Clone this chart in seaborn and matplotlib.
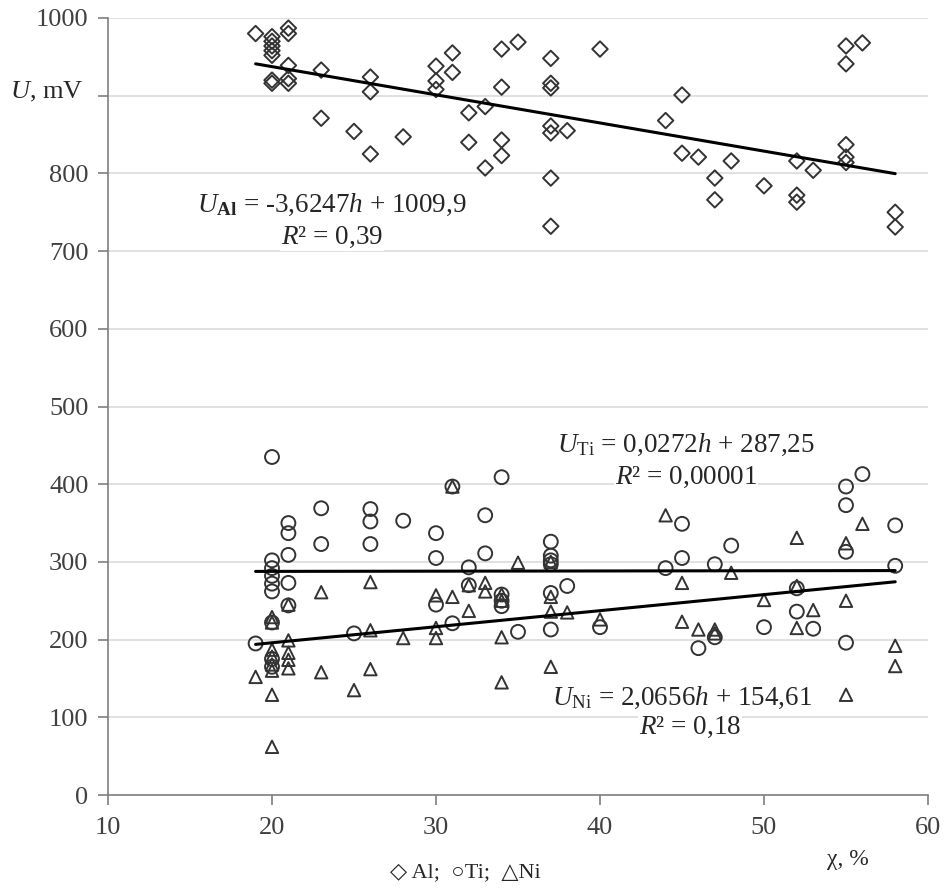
import matplotlib
matplotlib.use("Agg")
import matplotlib.pyplot as plt
import seaborn as sns
import numpy as np
import pandas as pd

# ---------------- data ----------------
al_x = [19, 20, 20, 20, 20, 20, 20, 20, 21, 21, 21, 21, 21, 23, 23, 25, 26, 26, 26, 28,
        30, 30, 30, 31, 31, 32, 32, 33, 33, 34, 34, 34, 34, 35,
        37, 37, 37, 37, 37, 37, 37, 38, 40, 44, 45, 45, 46, 47, 47, 48, 50,
        52, 52, 52, 53, 55, 55, 55, 55, 55, 56, 58, 58]
al_y = [980, 976, 970, 964, 958, 952, 920, 916, 987, 980, 939, 922, 916, 933, 871, 854, 924, 905, 825, 847,
        938, 919, 908, 955, 930, 878, 840, 886, 807, 960, 911, 843, 823, 969,
        948, 916, 910, 861, 852, 794, 732, 855, 960, 868, 901, 826, 821, 794, 766, 816, 784,
        816, 772, 763, 804, 964, 941, 837, 821, 814, 968, 750, 731]

ti_x = [19, 20, 20, 20, 20, 20, 20, 20, 20, 20, 21, 21, 21, 21, 21, 23, 23, 25, 26, 26, 26, 28,
        30, 30, 30, 31, 31, 32, 32, 33, 33, 34, 34, 34, 34, 35,
        37, 37, 37, 37, 37, 37, 38, 40, 44, 45, 45, 46, 47, 47, 48, 50,
        52, 52, 53, 55, 55, 55, 55, 56, 58, 58]
ti_y = [195, 435, 302, 292, 282, 272, 262, 222, 175, 165, 350, 337, 309, 273, 244, 369, 323, 208, 368, 352, 323, 353,
        337, 305, 245, 397, 221, 293, 270, 360, 311, 409, 258, 250, 243, 210,
        326, 308, 302, 297, 260, 213, 269, 216, 292, 349, 305, 189, 297, 203, 321, 216,
        266, 236, 214, 397, 373, 313, 196, 413, 347, 295]

ni_x = [19, 20, 20, 20, 20, 20, 20, 20, 20, 21, 21, 21, 21, 21, 23, 23, 25, 26, 26, 26, 28,
        30, 30, 30, 31, 31, 32, 32, 33, 33, 34, 34, 34, 34, 35,
        37, 37, 37, 37, 38, 40, 44, 45, 45, 46, 47, 47, 48, 50,
        52, 52, 52, 53, 55, 55, 55, 56, 58, 58]
ni_y = [152, 229, 222, 187, 178, 168, 160, 129, 62, 245, 199, 183, 174, 163, 261, 158, 135, 274, 212, 162, 202,
        257, 215, 202, 397, 255, 270, 237, 273, 262, 258, 250, 203, 145, 299,
        300, 255, 236, 165, 235, 226, 360, 273, 223, 213, 213, 208, 286, 251,
        331, 269, 215, 238, 324, 250, 129, 349, 192, 166]

# trend lines (slope, intercept) as printed on the chart
trend_range = [19, 58]
al_fit = (-3.6247, 1009.9)
ti_fit = (0.0272, 287.25)
ni_fit = (2.0656, 154.61)

x_ticks = [10, 20, 30, 40, 50, 60]
y_ticks = [0, 100, 200, 300, 400, 500, 600, 700, 800, 900, 1000]
y_ticklabels = ["0", "100", "200", "300", "400", "500", "600", "700", "800", "", "1000"]

# ---------------- style ----------------
sns.set_theme(style="white")
plt.rcParams["font.family"] = ["Liberation Serif", "DejaVu Sans"]
plt.rcParams["mathtext.fontset"] = "custom"
plt.rcParams["mathtext.rm"] = "Liberation Serif"
plt.rcParams["mathtext.it"] = "Liberation Serif:italic"
plt.rcParams["mathtext.bf"] = "Liberation Serif:bold"

W, H = 944, 890
fig = plt.figure(figsize=(W / 100, H / 100), dpi=100)
ax = fig.add_axes([108 / W, 1 - 795 / H, (928 - 108) / W, (795 - 18) / H])

mk_color = "#333333"
for xs, ys, m, s in [(al_x, al_y, "D", 62), (ti_x, ti_y, "o", 100), (ni_x, ni_y, "^", 80)]:
    df = pd.DataFrame({"x": xs, "y": ys})
    sns.scatterplot(data=df, x="x", y="y", marker=m, s=s, facecolor="none",
                    edgecolor=mk_color, linewidth=1.4, ax=ax, zorder=3)

xr = np.array(trend_range, dtype=float)
for slope, icpt in [al_fit, ti_fit, ni_fit]:
    sns.lineplot(x=xr, y=slope * xr + icpt, color="black", linewidth=2.2, ax=ax, zorder=4)

ax.set_xlim(10, 60)
ax.set_ylim(0, 1000)
ax.set_xticks(x_ticks)
ax.set_yticks(y_ticks)
ax.set_yticklabels(y_ticklabels)
ax.set_xlabel("")
ax.set_ylabel("")
ax.yaxis.grid(True, color="#dcdcdc", linewidth=1.2)
ax.set_axisbelow(True)
for side in ["top", "right"]:
    ax.spines[side].set_visible(False)
ax.spines["left"].set_color("#7f7f7f")
ax.spines["bottom"].set_color("#7f7f7f")
ax.spines["left"].set_linewidth(1.2)
ax.spines["bottom"].set_linewidth(1.2)
ax.tick_params(axis="y", direction="out", length=7, width=1.2, color="#7f7f7f",
               labelsize=19, labelcolor="#404040", pad=7, left=True)
ax.tick_params(axis="x", direction="out", length=7, width=1.2, color="#7f7f7f",
               labelsize=19, labelcolor="#404040", pad=9, bottom=True)

def ftext(px, py, s, size=19.5, ha="center", **kw):
    fig.text(px / W, 1 - py / H, s, ha=ha, va="center", fontsize=size, color="#262626", **kw)

box = dict(facecolor="white", edgecolor="none", pad=1)
ftext(83, 92, r"$U$, mV", ha="right", size=19)
ftext(332, 205, r"$U_{\mathbf{Al}}$ = -3,6247$h$ + 1009,9", bbox=box)
ftext(332, 237, r"$R$² = 0,39", bbox=box)
ftext(686, 445, r"$U_{\mathrm{Ti}}$ = 0,0272$h$ + 287,25", bbox=box)
ftext(686, 477, r"$R$² = 0,00001", bbox=box)
ftext(682, 698, r"$U_{\mathrm{Ni}}$ = 2,0656$h$ + 154,61", bbox=box)
ftext(690, 727, r"$R$² = 0,18", bbox=box)
ftext(465, 873, "◇ Al;  ○Ti;  △Ni", size=16)
ftext(848, 860, "χ, %", size=17)

fig.savefig("out.png", dpi=100)
